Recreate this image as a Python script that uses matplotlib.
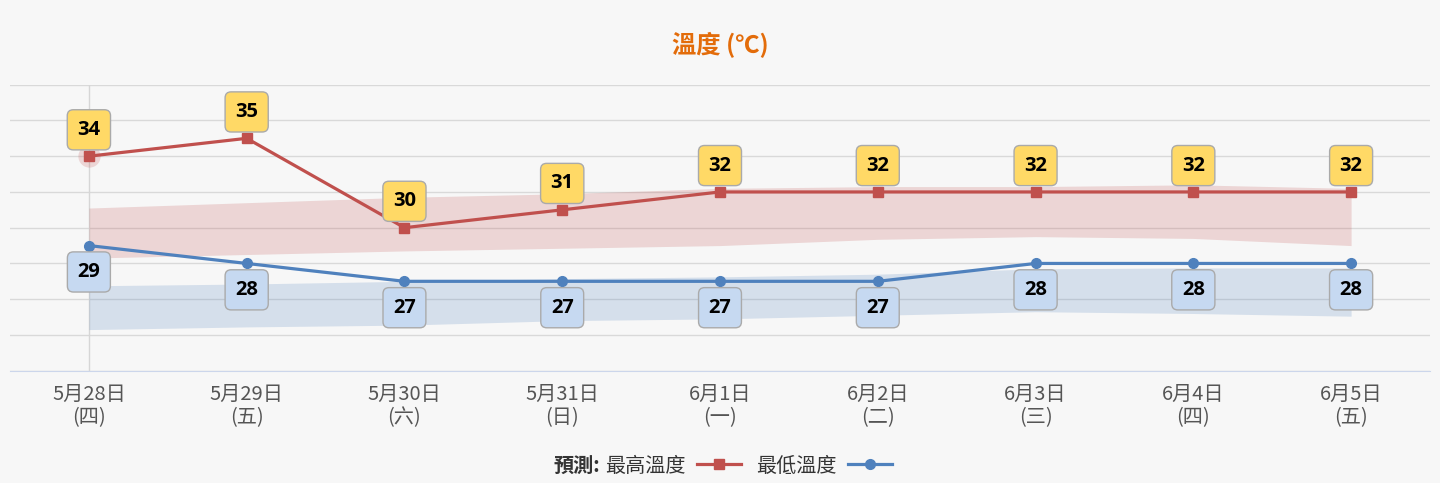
import matplotlib
matplotlib.use("Agg")
import matplotlib.pyplot as plt
from matplotlib.lines import Line2D

plt.rcParams['font.family'] = ['Noto Sans CJK TC', 'DejaVu Sans']

# datos
fechas = ["5月28日", "5月29日", "5月30日", "5月31日", "6月1日", "6月2日", "6月3日", "6月4日", "6月5日"]
dias = ["(四)", "(五)", "(六)", "(日)", "(一)", "(二)", "(三)", "(四)", "(五)"]
max_temp = [34, 35, 30, 31, 32, 32, 32, 32, 32]
min_temp = [29, 28, 27, 27, 27, 27, 28, 28, 28]
# rangos (bandas)
max_alto = [31.1, 31.4, 31.7, 31.9, 32.2, 32.3, 32.3, 32.4, 32.2]
max_bajo = [28.3, 28.5, 28.7, 28.85, 29.0, 29.35, 29.5, 29.4, 29.0]
min_alto = [26.75, 26.85, 27.0, 27.15, 27.25, 27.4, 27.7, 27.75, 27.75]
min_bajo = [24.3, 24.45, 24.55, 24.8, 24.9, 25.1, 25.3, 25.2, 25.05]

rojo = "#c0504d"
azul = "#4f81bd"
fondo = "#f7f7f7"

fig = plt.figure(figsize=(14.4, 4.83), dpi=100, facecolor=fondo)
ax = fig.add_axes([10/1440, 112.3/483, 1420/1440, 286/483])
ax.set_facecolor(fondo)

x = list(range(len(fechas)))

# grid
ax.set_ylim(22, 38)
ax.set_xlim(-0.5, 8.5)
ax.set_yticks(range(22, 39, 2))
ax.yaxis.grid(True, color="#d9d9d9", lw=1)
ax.set_axisbelow(True)
ax.tick_params(axis="y", left=False, labelleft=False)
ax.tick_params(axis="x", bottom=False, pad=6, labelsize=14.5, labelcolor="#555555")
for s in ["left", "right", "top"]:
    ax.spines[s].set_visible(False)
ax.spines["bottom"].set_color("#ccd6eb")
ax.set_xticks(x)
ax.set_xticklabels([f + "\n" + d for f, d in zip(fechas, dias)], linespacing=1.15)

# linea vertical (cursor)
ax.axvline(0, color="#d6d6d6", lw=1, zorder=1)

# bandas
ax.fill_between(x, max_bajo, max_alto, color=rojo, alpha=0.2, lw=0, zorder=2)
ax.fill_between(x, min_bajo, min_alto, color=azul, alpha=0.2, lw=0, zorder=2)

# halo del primer punto
ax.plot(x[0], max_temp[0], "o", ms=16, color=rojo, alpha=0.2, mew=0, zorder=3)

# lineas
ax.plot(x, max_temp, color=rojo, lw=2.3, marker="s", ms=7.5, zorder=4)
ax.plot(x, min_temp, color=azul, lw=2.3, marker="o", ms=7, zorder=4)

# etiquetas
caja = "round,pad=0.5,rounding_size=0.3"
for xi, v in zip(x, max_temp):
    ax.annotate(str(v), (xi, v), xytext=(0, 19), textcoords="offset points",
                ha="center", va="center", fontsize=14.5, fontweight="bold", color="black",
                family=["Open Sans", "DejaVu Sans"],
                bbox=dict(boxstyle=caja, fc="#ffd966", ec="#aaaaaa", lw=1),
                zorder=6)
for xi, v in zip(x, min_temp):
    ax.annotate(str(v), (xi, v), xytext=(0, -19), textcoords="offset points",
                ha="center", va="center", fontsize=14.5, fontweight="bold", color="black",
                family=["Open Sans", "DejaVu Sans"],
                bbox=dict(boxstyle=caja, fc="#c6d9f1", ec="#aaaaaa", lw=1),
                zorder=6)

# titulo
fig.text(0.5, 1 - 45/483, "溫度 (℃)", ha="center", va="center", fontsize=17.5,
         fontweight="bold", color="#e36c0a")

# leyenda
fig.text(600/1440, 1 - 466/483, "預測:", ha="right", va="center", fontsize=14.5,
         fontweight="bold", color="#333333")
handles = [Line2D([], [], color=rojo, lw=2.3, marker="s", ms=7.5),
           Line2D([], [], color=azul, lw=2.3, marker="o", ms=7)]
leg = fig.legend(handles, ["最高溫度", "最低溫度"], loc="center left",
                 bbox_to_anchor=(605/1440, 1 - 466/483), ncol=2, frameon=False,
                 markerfirst=False, fontsize=14.5, handlelength=2.2, columnspacing=0.75,
                 handletextpad=0.55, borderaxespad=0, borderpad=0)
for t in leg.get_texts():
    t.set_color("#333333")

fig.savefig("out.png", dpi=100, facecolor=fondo)
